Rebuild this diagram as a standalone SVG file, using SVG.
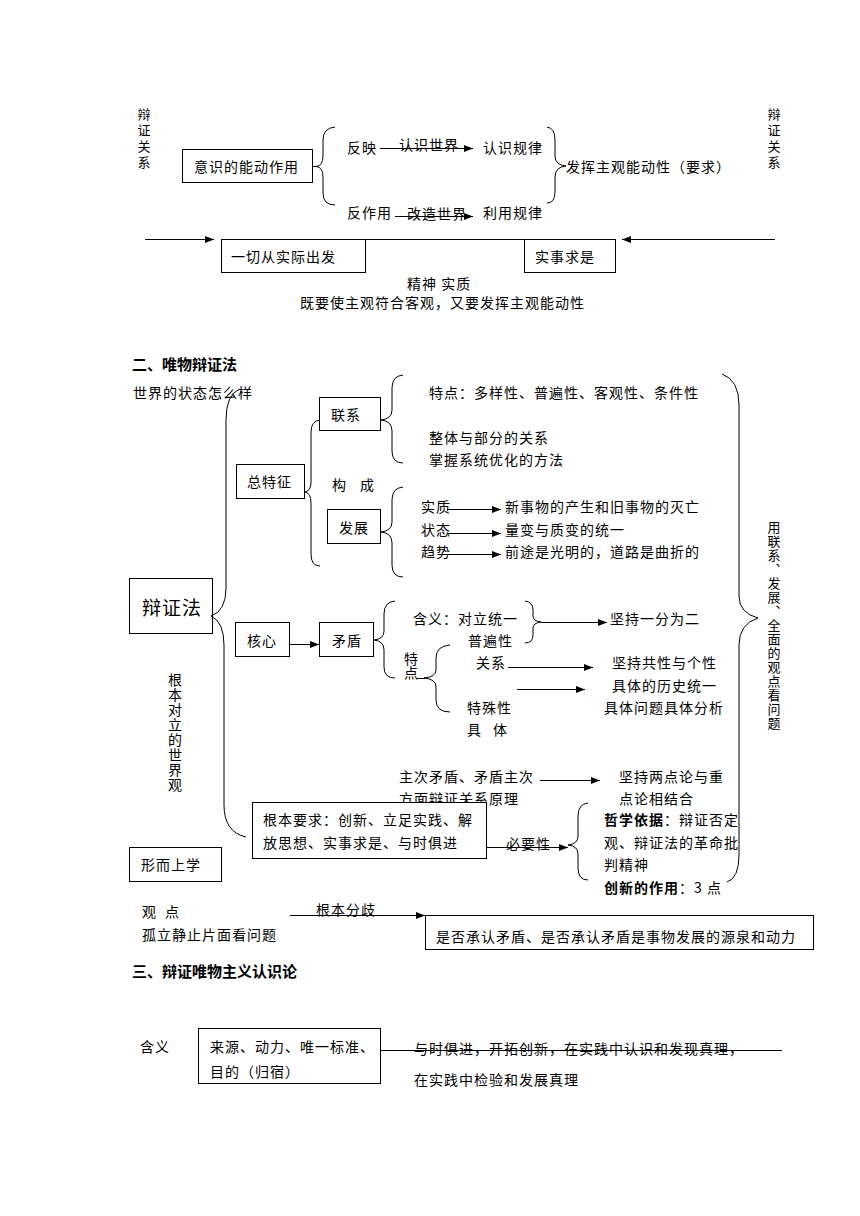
<svg xmlns="http://www.w3.org/2000/svg" width="860" height="1216" viewBox="0 0 860 1216">
<defs>
<style>
.t{font-family:"Noto Sans CJK SC","Noto Sans",sans-serif;font-size:14px;letter-spacing:1px;fill:#000}
.v{font-family:"Noto Sans CJK SC","Noto Sans",sans-serif;font-size:13px;fill:#000;writing-mode:vertical-rl;text-orientation:upright}
.h{font-family:"Noto Sans CJK SC","Noto Sans",sans-serif;font-size:15px;font-weight:bold;fill:#000}
.b{font-weight:bold}
.ln{stroke:#000;stroke-width:1;fill:none}
.ar{stroke:#000;stroke-width:1;fill:none;marker-end:url(#ah)}
.box{fill:#fff;stroke:#000;stroke-width:1}
</style>
<marker id="ah" markerWidth="9" markerHeight="7" refX="9" refY="3.5" orient="auto" markerUnits="userSpaceOnUse"><path d="M0,0 L9,3.5 L0,7 z" fill="#000"/></marker>
</defs>
<rect width="860" height="1216" fill="#fff"/>

<!-- Section 1 -->
<g id="side-left"><text class="v" style="letter-spacing:3px" x="144" y="108">辩证关系</text></g>
<g id="side-right"><text class="v" style="letter-spacing:3px" x="774" y="108">辩证关系</text></g>
<g id="n-yishi"><rect class="box" x="182.5" y="149.5" width="130" height="33"/><text class="t" x="194" y="172">意识的能动作用</text></g>
<g id="n-fanying"><text class="t" x="347" y="153">反映</text><text class="t" x="399" y="150">认识世界</text><text class="t" x="483" y="153">认识规律</text></g>
<g id="n-fanzuoyong"><text class="t" x="347" y="218">反作用</text><text class="t" x="407" y="219">改造世界</text><text class="t" x="483" y="218">利用规律</text></g>
<g id="n-fahui"><text class="t" x="566" y="172">发挥主观能动性（要求）</text></g>
<g id="n-yiqie"><rect class="box" x="221.5" y="239.5" width="144" height="33"/><text class="t" x="231" y="262">一切从实际出发</text></g>
<g id="n-shishi"><rect class="box" x="524.5" y="239.5" width="91" height="33"/><text class="t" x="535" y="262">实事求是</text></g>
<g id="n-jingshen"><text class="t" x="407" y="289">精神  实质</text><text class="t" x="300" y="308">既要使主观符合客观，又要发挥主观能动性</text></g>

<!-- Section 2 -->
<g id="h2"><text class="h" x="132" y="370">二、唯物辩证法</text></g>
<g id="n-shijie"><text class="t" x="133" y="398">世界的状态怎么样</text></g>
<g id="n-bianzhengfa"><rect class="box" x="129.5" y="578.5" width="83" height="55"/><text class="t" style="font-size:19px" x="142" y="615">辩证法</text></g>
<g id="n-genben"><text class="v" style="font-size:14px;letter-spacing:1px" x="175" y="673">根本对立的世界观</text></g>
<g id="n-xingershang"><rect class="box" x="129.5" y="847.5" width="92" height="34"/><text class="t" x="141" y="870">形而上学</text></g>
<g id="n-zongtezheng"><rect class="box" x="236.5" y="464.5" width="68" height="34"/><text class="t" x="247" y="487">总特征</text></g>
<g id="n-goucheng"><text class="t" x="332" y="490">构</text><text class="t" x="360" y="490">成</text></g>
<g id="n-lianxi"><rect class="box" x="319.5" y="397.5" width="61" height="33"/><text class="t" x="331" y="420">联系</text></g>
<g id="n-fazhan"><rect class="box" x="327.5" y="509.5" width="53" height="34"/><text class="t" x="339" y="533">发展</text></g>
<g id="n-lianxi-items"><text class="t" x="429" y="398">特点：多样性、普遍性、客观性、条件性</text><text class="t" x="429" y="443">整体与部分的关系</text><text class="t" x="429" y="465">掌握系统优化的方法</text></g>
<g id="n-fazhan-items"><text class="t" x="421" y="512">实质</text><text class="t" x="505" y="512">新事物的产生和旧事物的灭亡</text><text class="t" x="421" y="535">状态</text><text class="t" x="505" y="535">量变与质变的统一</text><text class="t" x="421" y="557">趋势</text><text class="t" x="505" y="557">前途是光明的，道路是曲折的</text></g>
<g id="n-hexin"><rect class="box" x="235.5" y="622.5" width="54" height="34"/><text class="t" x="247" y="646">核心</text></g>
<g id="n-maodun"><rect class="box" x="319.5" y="622.5" width="54" height="34"/><text class="t" x="332" y="646">矛盾</text></g>
<g id="n-hanyi"><text class="t" x="413" y="624">含义：对立统一</text><text class="t" x="468" y="646">普遍性</text><text class="t" x="610" y="624">坚持一分为二</text></g>
<g id="n-tedian"><text class="v" style="font-size:14px" x="411" y="652">特点</text></g>
<g id="n-tedian-items"><text class="t" x="476" y="668">关系</text><text class="t" x="467" y="713">特殊性</text><text class="t" x="467" y="735">具</text><text class="t" x="493" y="735">体</text><text class="t" x="612" y="668">坚持共性与个性</text><text class="t" x="612" y="691">具体的历史统一</text><text class="t" x="604" y="713">具体问题具体分析</text></g>
<g id="n-zhuci"><text class="t" x="399" y="782">主次矛盾、矛盾主次</text><text class="t" x="399" y="804">方面辩证关系原理</text><text class="t" x="619" y="782">坚持两点论与重</text><text class="t" x="619" y="804">点论相结合</text></g>
<g id="n-yaoqiu"><rect class="box" x="252.5" y="802.5" width="234" height="56"/><text class="t" x="263" y="825">根本要求：创新、立足实践、解</text><text class="t" x="263" y="848">放思想、实事求是、与时俱进</text></g>
<g id="n-biyao"><text class="t" x="506" y="849">必要性</text></g>
<g id="n-zhexue"><text class="t" x="604" y="825"><tspan class="b">哲学依据</tspan>：辩证否定</text><text class="t" x="604" y="848">观、辩证法的革命批</text><text class="t" x="604" y="870">判精神</text><text class="t" x="604" y="893"><tspan class="b">创新的作用</tspan>：3 点</text></g>
<g id="n-yong"><text class="v" style="letter-spacing:1px" x="774" y="521">用联系、发展、全面的观点看问题</text></g>
<g id="n-guandian"><text class="t" x="142" y="917">观</text><text class="t" x="165" y="917">点</text><text class="t" x="142" y="940">孤立静止片面看问题</text><text class="t" x="316" y="915">根本分歧</text></g>
<g id="n-fenqi"><rect class="box" x="425.5" y="915.5" width="388" height="34"/><text class="t" x="436" y="942">是否承认矛盾、是否承认矛盾是事物发展的源泉和动力</text></g>

<!-- Section 3 -->
<g id="h3"><text class="h" x="132" y="977">三、辩证唯物主义认识论</text></g>
<g id="n-hanyi3"><text class="t" x="140" y="1052">含义</text></g>
<g id="n-laiyuan"><rect class="box" x="198.5" y="1028.5" width="182" height="55"/><text class="t" x="210" y="1052">来源、动力、唯一标准、</text><text class="t" x="210" y="1077">目的（归宿）</text></g>
<g id="n-yushi"><text class="t" x="414" y="1054">与时俱进，开拓创新，在实践中认识和发现真理，</text><text class="t" x="414" y="1085">在实践中检验和发展真理</text></g>

<g id="connectors">
<line class="ar" x1="380" y1="148.5" x2="473" y2="148.5"/>
<line class="ar" x1="395" y1="216.5" x2="473" y2="216.5"/>
<line class="ln" x1="312" y1="166.5" x2="317" y2="166.5"/>
<path class="ln" d="M335,127 Q323,128 323,140 L323,156 Q323,166 316,166.5 Q323,167 323,177 L323,193 Q323,205 335,205"/>
<path class="ln" d="M547,127 Q555,128 555,140 L555,156 Q555,165 566,166 Q555,167 555,177 L555,192 Q555,203 547,203"/>
<line class="ar" x1="145" y1="239.5" x2="214" y2="239.5"/>
<line class="ln" x1="365" y1="239.5" x2="525" y2="239.5"/>
<line class="ar" x1="775" y1="239.5" x2="622" y2="239.5"/>
<path class="ln" d="M240,389 Q226,394 226,420 L226,588 Q226,611 211,616 Q224,622 224,645 L224,805 Q224,832 246,837"/>
<path class="ln" d="M320,420 Q311,421 311,432 L311,482 Q311,491 305,492 Q311,493 311,503 L311,554 Q311,566 320,566"/>
<path class="ln" d="M403,375 Q392,376 392,388 L392,410 Q392,419 381,420 Q392,421 392,431 L392,451 Q392,463 403,463"/>
<path class="ln" d="M403,487 Q392,488 392,500 L392,522 Q392,531 381,532 Q392,533 392,543 L392,565 Q392,577 403,577"/>
<line class="ar" x1="447" y1="509.5" x2="501" y2="509.5"/>
<line class="ar" x1="447" y1="533.5" x2="501" y2="533.5"/>
<line class="ar" x1="447" y1="554.5" x2="501" y2="554.5"/>
<path class="ln" d="M722,374 Q739,380 739,405 L739,596 Q739,613 758,618 Q739,624 739,645 L739,855 Q739,878 727,882"/>
<line class="ar" x1="289" y1="644.5" x2="319" y2="644.5"/>
<path class="ln" d="M395,601 Q384,602 384,614 L384,631 Q384,639 374,640 Q384,641 384,650 L384,667 Q384,678 395,678"/>
<path class="ln" d="M525,601 Q533,602 533,610 L533,616 Q533,621 541,622 Q533,623 533,628 L533,635 Q533,643 525,643"/>
<line class="ar" x1="541" y1="622.5" x2="607" y2="622.5"/>
<line class="ln" x1="417" y1="678.5" x2="425" y2="678.5"/>
<path class="ln" d="M450,645 Q436,646 436,658 L436,670 Q436,677 424,678 Q436,679 436,687 L436,700 Q436,712 450,712"/>
<line class="ar" x1="508" y1="667.5" x2="593" y2="667.5"/>
<line class="ar" x1="517" y1="689.5" x2="585" y2="689.5"/>
<line class="ar" x1="540" y1="780.5" x2="600" y2="780.5"/>
<line class="ar" x1="486" y1="847.5" x2="568" y2="847.5"/>
<path class="ln" d="M588,803 Q578,804 578,816 L578,836 Q578,844 568,845 Q578,846 578,854 L578,868 Q578,880 588,880"/>
<line class="ar" x1="290" y1="915.5" x2="425" y2="915.5"/>
<line class="ln" x1="380" y1="1050.5" x2="782" y2="1050.5"/>
</g>
</svg>
